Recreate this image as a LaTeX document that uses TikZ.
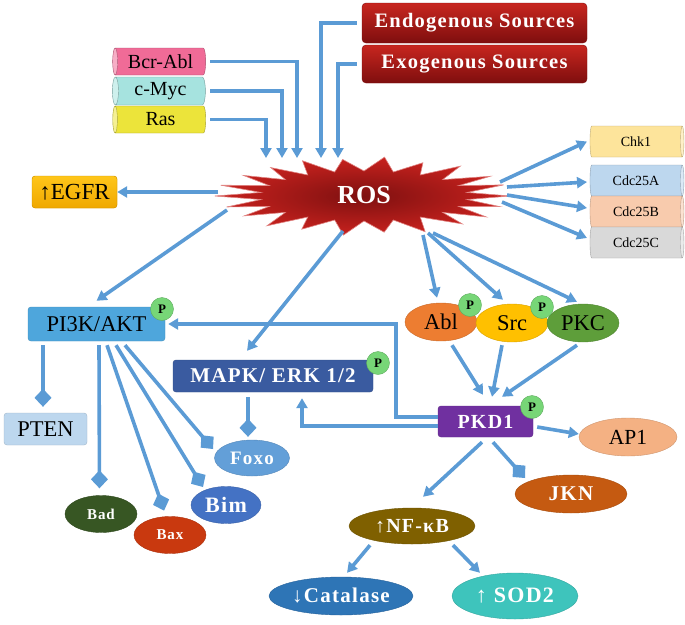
\documentclass[tikz,border=0pt]{standalone}
\usepackage{fontspec}
\setmainfont{Liberation Serif}
\newfontfamily\wfont{Liberation Serif}[LetterSpace=6]
\newfontfamily\nfont{Liberation Serif}
\usetikzlibrary{shapes.geometric,arrows.meta}
\definecolor{lb}{HTML}{5B9BD5}
\definecolor{redA}{HTML}{C8261F}
\definecolor{redB}{HTML}{7E0E0E}
\definecolor{rosIn}{HTML}{7E1010}
\definecolor{rosOut}{HTML}{C8221E}
\definecolor{cPink}{HTML}{F06B97}
\definecolor{cCyan}{HTML}{A6E3DF}
\definecolor{cYel}{HTML}{ECE43A}
\definecolor{cChk}{HTML}{FDE49B}
\definecolor{cA}{HTML}{BDD7EE}
\definecolor{cB}{HTML}{F8CBAD}
\definecolor{cC}{HTML}{D9D9D9}
\definecolor{egA}{HTML}{FFC61A}
\definecolor{egB}{HTML}{EFA800}
\definecolor{cPI}{HTML}{4EA6DC}
\definecolor{cPTEN}{HTML}{BDD7EE}
\definecolor{cMAPK}{HTML}{3A5BA0}
\definecolor{cAbl}{HTML}{ED7D31}
\definecolor{cSrc}{HTML}{FFC000}
\definecolor{cPKC}{HTML}{5E9E3A}
\definecolor{cPKD}{HTML}{7030A0}
\definecolor{cAP}{HTML}{F4B183}
\definecolor{cFoxo}{HTML}{639FD8}
\definecolor{cBim}{HTML}{4472C4}
\definecolor{cBad}{HTML}{375623}
\definecolor{cBax}{HTML}{C9390F}
\definecolor{cJKN}{HTML}{C55A11}
\definecolor{cNF}{HTML}{7F6000}
\definecolor{cCat}{HTML}{2E75B6}
\definecolor{cSOD}{HTML}{3EC4BC}
\definecolor{cP}{HTML}{77D677}
\newcommand{\fsz}[1]{\fontsize{#1}{#1}\selectfont}
\begin{document}
\begin{tikzpicture}[x=1pt,y=-1pt,line join=miter,
  conn/.style={draw=lb, line width=3.6pt, -{Triangle[length=10pt,width=11pt]}},
  inh/.style={draw=lb, line width=3.6pt, -{Diamond[length=18pt,width=17pt]}},
  redbox/.style={rectangle, rounded corners=4pt, top color=redA, bottom color=redB, draw=redB, minimum width=225pt, text=white, font=\wfont\bfseries\fsz{20.5}},
  cylL/.style={cylinder, shape border rotate=180, aspect=0.35, cylinder uses custom fill, cylinder body fill=#1, cylinder end fill=#1!55!white, draw=#1!70!black, minimum height=93pt, inner sep=0pt, font=\nfont\fsz{20}},
  cylR/.style={cylinder, aspect=0.35, cylinder uses custom fill, cylinder body fill=#1, cylinder end fill=#1!55!white, draw=#1!75!black, minimum height=94pt, minimum width=31pt, inner sep=0pt, font=\nfont\fsz{14}},
  box/.style={rectangle, rounded corners=3pt, fill=#1, draw=#1!85!black, inner sep=0pt},
  ell/.style={ellipse, fill=#1, draw=#1!85!black, inner sep=0pt},
  wtxt/.style={text=white, font=\wfont\bfseries\fsz{#1}},
  btxt/.style={text=black, font=\nfont\fsz{#1}},
  pball/.style={circle, fill=cP, draw=cP!80!black, minimum size=23pt, inner sep=0pt, font=\nfont\bfseries\fsz{13}}
]
\useasboundingbox (0,0) rectangle (685,624);

% sources
\node[redbox, minimum height=40pt] (endo) at (474.5,23) {Endogenous Sources};
\node[redbox, minimum height=38pt] (exo) at (474.5,64) {Exogenous Sources};
\node[cylL=cPink, minimum width=27pt] (bcr) at (160.5,61.5) {Bcr-Abl};
\node[cylL=cCyan, minimum width=28pt] (cmyc) at (160.5,91) {c-Myc};
\node[cylL=cYel, minimum width=27pt] (ras) at (160.5,119.5) {Ras};

% ROS explosion
\shade[inner color=rosIn, outer color=rosOut, draw=rosOut!55!white, line width=0.6pt]
  plot[samples at={0,...,43}, variable=\k]
  ({364 + ifthenelse(mod(\k,2)==0, 146*(1+0.03*sin(\k*137)), 104)*cos(\k*360/44)},
   {196 + ifthenelse(mod(\k,2)==0, 38*(1+0.04*sin(\k*97)), 25)*sin(\k*360/44)}) -- cycle;
\node[text=white, font=\nfont\bfseries\fsz{26}] (ros) at (364,195) {ROS};

\node[box=egB, top color=egA, bottom color=egB, minimum width=85pt, minimum height=32pt, btxt=23] (egfr) at (74.5,192) {↑EGFR};

\node[cylR=cChk] (chk) at (636,141.5) {Chk1};
\node[cylR=cA] (cdcA) at (636,180.5) {Cdc25A};
\node[cylR=cB] (cdcB) at (636,211.5) {Cdc25B};
\node[cylR=cC] (cdcC) at (636,242.5) {Cdc25C};

% middle
\node[box=cPI, minimum width=137pt, minimum height=34pt, btxt=22.5] (pi3k) at (96.5,324) {PI3K/AKT};
\node[box=cMAPK, minimum width=200pt, minimum height=32pt, wtxt=21] (mapk) at (273,376) {MAPK/ ERK 1/2};
\node[box=cPTEN, minimum width=83pt, minimum height=32pt, btxt=22.5] (pten) at (45.5,429) {PTEN};
\node[ell=cAbl, minimum width=72pt, minimum height=38pt, btxt=22.5] (abl) at (441,322) {Abl};
\node[ell=cSrc, minimum width=72pt, minimum height=38pt, btxt=22.5] (src) at (512,323) {Src};
\node[ell=cPKC, minimum width=72pt, minimum height=38pt, btxt=22.5] (pkc) at (583,323) {PKC};
\node[box=cPKD, minimum width=95pt, minimum height=31pt, wtxt=20] (pkd) at (485.5,421.5) {PKD1};
\node[ell=cAP, minimum width=98pt, minimum height=38pt, btxt=21.5] (ap1) at (628,437) {AP1};

% lower
\node[ell=cFoxo, minimum width=75pt, minimum height=36pt, wtxt=19] (foxo) at (252,458) {Foxo};
\node[ell=cBim, minimum width=70pt, minimum height=37pt, wtxt=22] (bim) at (226,505) {Bim};
\node[ell=cBad, minimum width=72pt, minimum height=37pt, wtxt=15] (bad) at (101,514) {Bad};
\node[ell=cBax, minimum width=72pt, minimum height=37pt, wtxt=15] (bax) at (170,535) {Bax};
\node[ell=cJKN, minimum width=112pt, minimum height=38pt, wtxt=21] (jkn) at (571,494) {JKN};
\node[ell=cNF, minimum width=126pt, minimum height=36pt, wtxt=20] (nfkb) at (412,526) {↑NF-κB};
\node[ell=cCat, minimum width=144pt, minimum height=38pt, wtxt=21] (cat) at (341,596) {↓Catalase};
\node[ell=cSOD, minimum width=126pt, minimum height=46pt, wtxt=22] (sod) at (515,596) {↑ SOD2};

% P balls
\node[pball] (p1) at (162,309) {P};
\node[pball] (p2) at (378,363) {P};
\node[pball] (p3) at (470,305) {P};
\node[pball] (p4) at (542,307) {P};
\node[pball] (p5) at (532,407) {P};

% inputs to ROS
\draw[conn] ([xshift=49.5pt]bcr.center) -| ([xshift=-67pt,yshift=37pt]ros.center);
\draw[conn] ([xshift=49.5pt]cmyc.center) -| ([xshift=-82pt,yshift=37pt]ros.center);
\draw[conn] ([xshift=49.5pt]ras.center) -| ([xshift=-98pt,yshift=37pt]ros.center);
\draw[conn] ([xshift=-5pt]endo.west) -| ([xshift=-43pt,yshift=37pt]ros.center);
\draw[conn] ([xshift=-5pt]exo.west) -| ([xshift=-26pt,yshift=37pt]ros.center);

% ROS outputs
\draw[conn] ([xshift=-146pt,yshift=3pt]ros.center) -- (egfr.east);
\draw[conn] ([xshift=136pt,yshift=13pt]ros.center) -- ([xshift=-49pt]chk.center);
\draw[conn] ([xshift=143pt,yshift=8pt]ros.center) -- ([xshift=-49pt,yshift=-1.5pt]cdcA.center);
\draw[conn] ([xshift=143pt,yshift=0pt]ros.center) -- ([xshift=-49pt,yshift=3.5pt]cdcB.center);
\draw[conn] ([xshift=138pt,yshift=-7pt]ros.center) -- ([xshift=-49pt,yshift=4.5pt]cdcC.center);
\draw[conn] ([xshift=-137pt,yshift=-15pt]ros.center) -- ([yshift=6pt]pi3k.north);
\draw[conn] ([xshift=-21pt,yshift=-36pt]ros.center) -- ([xshift=-26pt,yshift=9pt]mapk.north);
\draw[conn] ([xshift=59pt,yshift=-40pt]ros.center) -- ([xshift=-4pt,yshift=5pt]abl.north);
\draw[conn] ([xshift=64pt,yshift=-38pt]ros.center) -- ([xshift=-9pt,yshift=4pt]src.north);
\draw[conn] ([xshift=69pt,yshift=-38pt]ros.center) -- ([xshift=-6pt,yshift=2pt]pkc.north);

% kinases to PKD1
\draw[conn] ([xshift=11pt,yshift=-4pt]abl.south) -- ([xshift=-2.5pt,yshift=11pt]pkd.north);
\draw[conn] ([xshift=-10pt,yshift=-3pt]src.south) -- ([xshift=6.5pt,yshift=9pt]pkd.north);
\draw[conn] ([xshift=-6pt,yshift=-3pt]pkc.south) -- ([xshift=16.5pt,yshift=9pt]pkd.north);
\draw[conn] ([xshift=4pt,yshift=-5.5pt]pkd.east) -- ([yshift=3pt]ap1.west);

% PKD1 feedback
\draw[conn] ([yshift=4.5pt]pkd.west) -- ++(-42,0) |- ([xshift=3pt]pi3k.east);
\draw[conn] ([yshift=-4.5pt]pkd.west) -| ([xshift=29pt,yshift=-6pt]mapk.south);

% PKD1 downstream
\draw[conn] ([xshift=-3.5pt,yshift=-5pt]pkd.south) -- ([xshift=11pt,yshift=11pt]nfkb.north);
\draw[inh] ([xshift=7.5pt,yshift=-5pt]pkd.south) -- ([xshift=-46pt,yshift=16pt]jkn.center);
\draw[conn] ([xshift=-42pt,yshift=-1pt]nfkb.south) -- ([xshift=6pt,yshift=4pt]cat.north);
\draw[conn] ([xshift=41pt,yshift=-1pt]nfkb.south) -- ([xshift=-35pt,yshift=0pt]sod.north);

% PI3K inhibitions
\draw[inh, shorten >=6pt] ([xshift=-53.5pt,yshift=-4pt]pi3k.south) -- ([xshift=-2.5pt]pten.north);
\draw[inh, shorten >=7pt] ([xshift=2.5pt,yshift=-4pt]pi3k.south) -- ([xshift=-1.5pt]bad.north);
\draw[inh, shorten >=6pt] ([xshift=10.5pt,yshift=-4pt]pi3k.south) -- ([xshift=-4pt]bax.north);
\draw[inh] ([xshift=19.5pt,yshift=-4pt]pi3k.south) -- ([xshift=-23pt,yshift=18pt]bim.center);
\draw[inh] ([xshift=28.5pt,yshift=-4pt]pi3k.south) -- ([xshift=-39pt,yshift=9pt]foxo.center);
\draw[inh, shorten >=3pt] ([xshift=-25pt,yshift=-5pt]mapk.south) -- ([xshift=-4pt]foxo.north);
\end{tikzpicture}
\end{document}
